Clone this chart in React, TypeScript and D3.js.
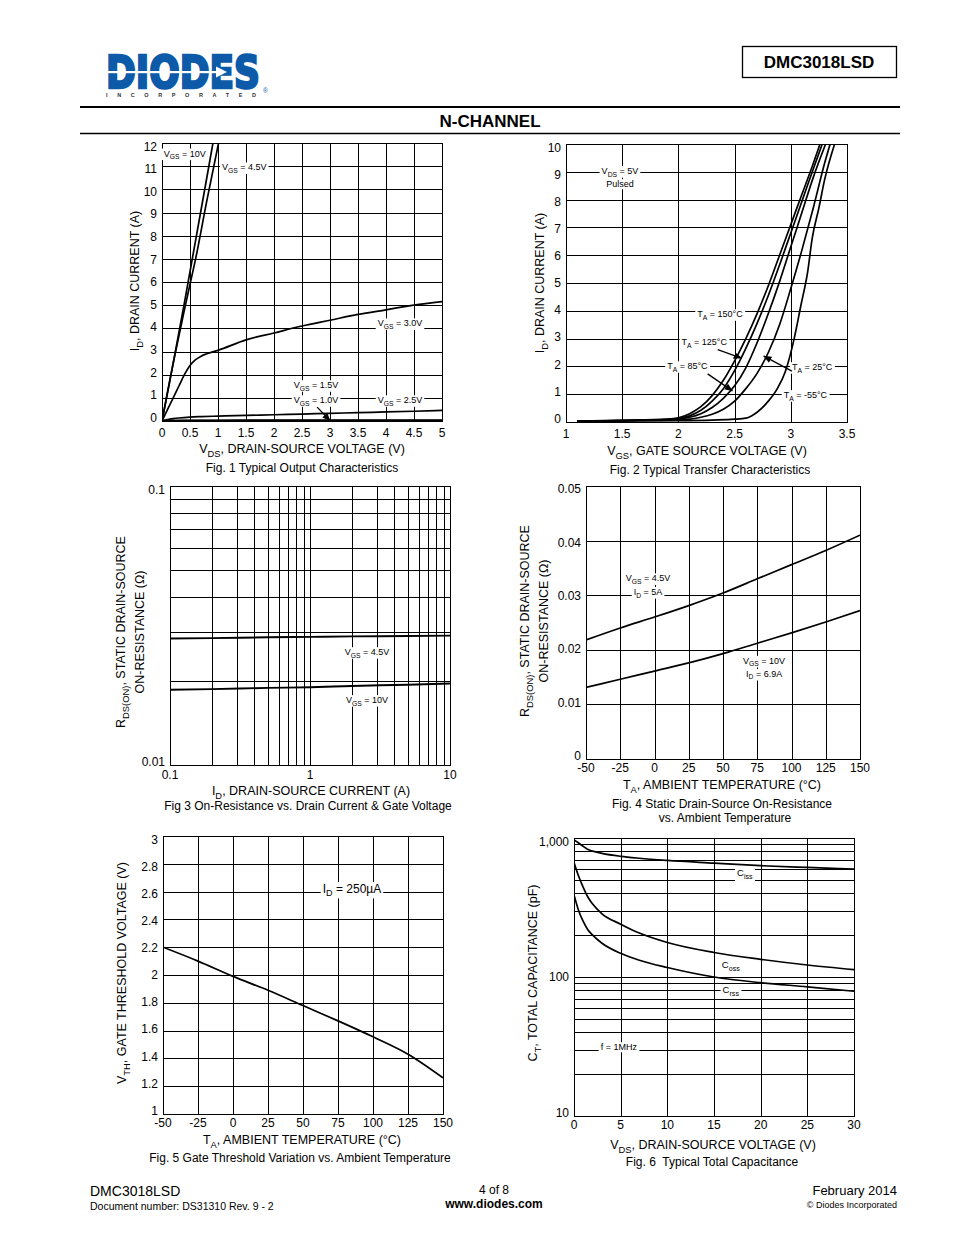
import { useEffect, useRef } from "react";
import * as d3 from "d3";

const W = 954;
const H = 1235;
const FONT = "'Liberation Sans', Arial, Helvetica, sans-serif";

// ── Fig. 1 Typical Output Characteristics ─────────────────────
const f1V10 = [0, 0.2, 0.4, 0.6, 0.8, 0.91];
const f1I10 = [0, 2.5, 5.1, 7.8, 10.5, 12];
const f1V45 = [0, 0.2, 0.4, 0.5, 0.6, 0.8, 1.01];
const f1I45 = [0, 2.5, 4.8, 5.9, 7.0, 9.5, 12];
const f1V30 = [0, 0.1, 0.2, 0.3, 0.4, 0.5, 0.6, 0.7, 0.8, 1.0, 1.5, 2, 2.5, 3, 3.5, 4, 4.5, 5];
const f1I30 = [0, 0.5, 1.0, 1.5, 2.0, 2.4, 2.65, 2.8, 2.9, 3.05, 3.5, 3.8, 4.1, 4.35, 4.6, 4.8, 5.0, 5.15];
const f1V25 = [0, 0.1, 0.2, 0.3, 0.5, 0.7, 1, 1.5, 2, 2.5, 3, 3.5, 4, 4.5, 5];
const f1I25 = [0, 0.06, 0.1, 0.13, 0.17, 0.19, 0.21, 0.24, 0.27, 0.3, 0.33, 0.36, 0.39, 0.42, 0.46];
const f1V15 = [0, 0.5, 1, 2, 3, 4, 5];
const f1I15 = [0, 0.015, 0.02, 0.025, 0.03, 0.03, 0.03];
const f1V10v = [0, 5];
const f1I10v = [0, 0];

// ── Fig. 2 Typical Transfer Characteristics ───────────────────
const f2V150 = [1.1, 1.5, 1.9, 2.0, 2.1, 2.2, 2.3, 2.4, 2.5, 2.6, 2.7, 2.8, 2.9, 3.0, 3.1, 3.2, 3.26];
const f2I150 = [0.03, 0.06, 0.1, 0.15, 0.3, 0.55, 0.95, 1.5, 2.2, 3.0, 3.9, 4.9, 6.0, 7.1, 8.2, 9.3, 10];
const f2V125 = [1.1, 1.5, 1.9, 2.0, 2.1, 2.2, 2.3, 2.4, 2.5, 2.6, 2.7, 2.8, 2.9, 3.0, 3.1, 3.2, 3.28];
const f2I125 = [0.03, 0.05, 0.09, 0.12, 0.22, 0.42, 0.75, 1.2, 1.85, 2.65, 3.55, 4.55, 5.65, 6.8, 7.95, 9.1, 10];
const f2V85 = [1.1, 1.5, 2.0, 2.1, 2.2, 2.3, 2.4, 2.5, 2.6, 2.7, 2.8, 2.9, 3.0, 3.1, 3.2, 3.31];
const f2I85 = [0.03, 0.05, 0.1, 0.17, 0.3, 0.52, 0.85, 1.3, 1.95, 2.85, 3.9, 5.05, 6.3, 7.55, 8.8, 10];
const f2V25 = [1.1, 1.5, 2.0, 2.1, 2.2, 2.3, 2.4, 2.5, 2.6, 2.7, 2.8, 2.9, 3.0, 3.1, 3.2, 3.3, 3.35];
const f2I25 = [0.03, 0.05, 0.08, 0.1, 0.17, 0.28, 0.46, 0.75, 1.2, 1.75, 2.5, 3.5, 4.8, 6.2, 7.7, 9.3, 10];
const f2Vm55 = [1.1, 1.5, 2.0, 2.3, 2.5, 2.6, 2.65, 2.7, 2.8, 2.88, 2.95, 3.03, 3.09, 3.15, 3.19, 3.25, 3.3, 3.39];
const f2Im55 = [0.03, 0.04, 0.05, 0.07, 0.1, 0.14, 0.22, 0.35, 0.75, 1.2, 1.8, 3.0, 4.2, 5.4, 6.6, 7.7, 8.7, 10];

// ── Fig. 3 On-Resistance vs. Drain Current ────────────────────
const f3Id = [0.1, 0.2, 0.5, 1, 2, 5, 10];
const f3R45 = [0.0284, 0.0285, 0.0287, 0.0288, 0.0289, 0.029, 0.0291];
const f3R10 = [0.0186, 0.0187, 0.0189, 0.019, 0.0192, 0.0194, 0.0196];

// ── Fig. 4 On-Resistance vs. Ambient Temperature ──────────────
const f4T = [-50, -25, 0, 25, 50, 75, 100, 125, 150];
const f4R45 = [0.0218, 0.024, 0.026, 0.0281, 0.0304, 0.033, 0.0356, 0.0382, 0.041];
const f4R10 = [0.0131, 0.0146, 0.0161, 0.0176, 0.0193, 0.0212, 0.0231, 0.0251, 0.0272];

// ── Fig. 5 Gate Threshold Variation ───────────────────────────
const f5T = [-50, -25, 0, 25, 50, 75, 100, 125, 150];
const f5Vth = [2.2, 2.1, 1.99, 1.89, 1.78, 1.67, 1.555, 1.43, 1.26];

// ── Fig. 6 Typical Total Capacitance ──────────────────────────
const f6V = [0, 0.5, 1, 1.5, 2, 3, 5, 7, 10, 15, 20, 25, 30];
const f6Ciss = [970, 920, 870, 825, 805, 775, 738, 715, 690, 660, 632, 614, 598];
const f6Coss = [668, 530, 440, 375, 335, 285, 240, 207, 177, 150, 134, 122, 113];
const f6Crss = [390, 300, 250, 218, 200, 175, 148, 132, 117, 100, 91, 85, 79];

// tick values
const f1XTicks = d3.range(0, 5.01, 0.5);
const f1YTicks = d3.range(0, 13, 1);
const f2XTicks = d3.range(1, 3.51, 0.5);
const f2YTicks = d3.range(0, 11, 1);
const f3XTicks = [0.1, 1, 10];
const f3YTicks = [0.01, 0.1];
const tempTicks = d3.range(-50, 151, 25);
const f4YTicks = [0, 0.01, 0.02, 0.03, 0.04, 0.05];
const f5YTicks = d3.range(1, 3.01, 0.2).map((v) => +v.toFixed(1));
const f6XTicks = d3.range(0, 31, 5);
const f6YTicks = [10, 100, 1000];

const logGrid = (lo: number, hi: number) => {
  const out: number[] = [];
  for (let dec = lo; dec < hi; dec *= 10) for (let k = 1; k < 10; k++) out.push(dec * k);
  out.push(hi);
  return out;
};

type Sel = d3.Selection<any, any, any, any>;
type Pt = [number, number];
const zip = (a: number[], b: number[]): Pt[] => a.map((v, i) => [v, b[i]]);

// "V_{GS} = 10V" -> tspans with subscripts
function rich(t: Sel, str: string, size: number) {
  const parts = str.split(/(_\{[^}]*\})/);
  let down = false;
  parts.forEach((p) => {
    if (!p) return;
    if (p.startsWith("_{")) {
      t.append("tspan").attr("font-size", size * 0.75).attr("dy", size * 0.28).text(p.slice(2, -1));
      down = true;
    } else {
      const s = t.append("tspan").text(p);
      if (down) s.attr("dy", -size * 0.28);
      down = false;
    }
  });
}

function note(g: Sel, x: number, y: number, str: string, size: number, anchor = "middle", bg = true) {
  const grp = g.append("g");
  const t = grp
    .append("text")
    .attr("x", x)
    .attr("y", y + size * 0.35)
    .attr("font-size", size)
    .attr("text-anchor", anchor)
    .attr("fill", "#000")
    .style("white-space", "pre");
  rich(t, str, size);
  if (bg) {
    const b = (t.node() as SVGTextElement).getBBox();
    grp
      .insert("rect", "text")
      .attr("x", b.x - 2)
      .attr("y", b.y)
      .attr("width", b.width + 4)
      .attr("height", b.height)
      .attr("fill", "#fff");
  }
}

type Cfg = {
  id: string;
  xd: [number, number];
  yd: [number, number];
  px: [number, number];
  py: [number, number]; // [bottom, top]
  xlog?: boolean;
  ylog?: boolean;
  xGrid: number[];
  yGrid: number[];
  xTicks: number[];
  yTicks: number[];
  xFmt: (v: number) => string;
  yFmt: (v: number) => string;
  xTickDy: number;
};

function chart(svg: Sel, c: Cfg) {
  const g = svg.append("g");
  const xs = (c.xlog ? d3.scaleLog() : d3.scaleLinear()).domain(c.xd).range(c.px);
  const ys = (c.ylog ? d3.scaleLog() : d3.scaleLinear()).domain(c.yd).range(c.py);
  const cx = (v: number) => Math.round(xs(v)) + 0.5;
  const cy = (v: number) => Math.round(ys(v)) + 0.5;
  const midY = (c.py[0] + c.py[1]) / 2;

  g.append("defs")
    .append("clipPath")
    .attr("id", c.id)
    .append("rect")
    .attr("x", c.px[0])
    .attr("y", c.py[1])
    .attr("width", c.px[1] - c.px[0])
    .attr("height", c.py[0] - c.py[1]);

  g.selectAll(".gx")
    .data(c.xGrid)
    .join("line")
    .attr("x1", cx)
    .attr("x2", cx)
    .attr("y1", cy(c.yd[0]))
    .attr("y2", cy(c.yd[1]))
    .attr("stroke", "#000")
    .attr("stroke-width", 1);
  g.selectAll(".gy")
    .data(c.yGrid)
    .join("line")
    .attr("y1", cy)
    .attr("y2", cy)
    .attr("x1", cx(c.xd[0]))
    .attr("x2", cx(c.xd[1]))
    .attr("stroke", "#000")
    .attr("stroke-width", 1);

  g.append("rect")
    .attr("x", cx(c.xd[0]))
    .attr("y", cy(c.yd[1]))
    .attr("width", cx(c.xd[1]) - cx(c.xd[0]))
    .attr("height", cy(c.yd[0]) - cy(c.yd[1]))
    .attr("fill", "none")
    .attr("stroke", "#000")
    .attr("stroke-width", 1);

  g.selectAll(".tx")
    .data(c.xTicks)
    .join("text")
    .attr("x", (d) => xs(d))
    .attr("y", c.py[0] + c.xTickDy)
    .attr("text-anchor", "middle")
    .attr("font-size", 12)
    .text(c.xFmt);
  // tick labels sit slightly inside the grid ends, as in the original
  g.selectAll(".ty")
    .data(c.yTicks)
    .join("text")
    .attr("x", c.px[0] - 5)
    .attr("y", (d) => midY + (ys(d) - midY) * 0.976 + 4.2)
    .attr("text-anchor", "end")
    .attr("font-size", 12)
    .text(c.yFmt);

  const plot = g.append("g").attr("clip-path", `url(#${c.id})`);
  const curve = (pts: Pt[], sw = 1.7) => {
    const line = d3
      .line<Pt>()
      .x((d) => xs(d[0]))
      .y((d) => ys(d[1]))
      .curve(d3.curveMonotoneX);
    plot
      .append("path")
      .attr("d", line(pts))
      .attr("fill", "none")
      .attr("stroke", "#000")
      .attr("stroke-width", sw)
      .attr("stroke-linejoin", "round");
  };
  const ann = g.append("g");
  const label = (x: number, y: number, s: string, size = 9, anchor = "middle", bg = true) =>
    note(ann, xs(x), ys(y), s, size, anchor, bg);
  const arrow = (x1: number, y1: number, x2: number, y2: number) =>
    ann
      .append("line")
      .attr("x1", xs(x1))
      .attr("y1", ys(y1))
      .attr("x2", xs(x2))
      .attr("y2", ys(y2))
      .attr("stroke", "#000")
      .attr("stroke-width", 1.3)
      .attr("marker-end", "url(#arr)");
  return { curve, label, arrow };
}

function ylabel(svg: Sel, x: number, y: number, s: string, size = 12.5) {
  const t = svg
    .append("text")
    .attr("transform", `translate(${x},${y}) rotate(-90)`)
    .attr("text-anchor", "middle")
    .attr("y", size * 0.35)
    .attr("font-size", size)
    .style("white-space", "pre");
  rich(t, s, size);
}

function ctext(svg: Sel, x: number, y: number, s: string, size = 12.5, anchor = "middle", weight = "normal") {
  const t = svg
    .append("text")
    .attr("x", x)
    .attr("y", y)
    .attr("text-anchor", anchor)
    .attr("font-size", size)
    .attr("font-weight", weight)
    .style("white-space", "pre");
  rich(t, s, size);
  return t;
}

const fmt = (v: number) => String(+v.toFixed(2));

export default function App() {
  const ref = useRef<SVGSVGElement>(null);

  useEffect(() => {
    if (!ref.current) return;
    const svg = d3.select(ref.current);
    svg.selectAll("*").remove();
    svg.attr("font-family", FONT);
    svg.append("rect").attr("width", W).attr("height", H).attr("fill", "#fff");

    svg
      .append("defs")
      .append("marker")
      .attr("id", "arr")
      .attr("viewBox", "0 0 10 10")
      .attr("refX", 9)
      .attr("refY", 5)
      .attr("markerWidth", 6.5)
      .attr("markerHeight", 6.5)
      .attr("orient", "auto")
      .append("path")
      .attr("d", "M0,1L10,5L0,9Z")
      .attr("fill", "#000");

    // ── Header ─────────────────────────────────────────────────
    const blue = "#0d5ba8";
    svg
      .append("text")
      .attr("x", 106)
      .attr("y", 88)
      .attr("font-family", "'DejaVu Sans', sans-serif")
      .attr("font-weight", 900)
      .attr("font-size", 44)
      .attr("textLength", 154)
      .attr("lengthAdjust", "spacingAndGlyphs")
      .attr("fill", blue)
      .attr("stroke", blue)
      .attr("stroke-width", 2.6)
      .attr("stroke-linejoin", "miter")
      .text("DIODES");
    svg.append("rect").attr("x", 100).attr("y", 71).attr("width", 122).attr("height", 2.2).attr("fill", "#fff");
    svg.append("path").attr("d", "M216,66.5 L227,72 L216,77.5 Z").attr("fill", "#fff");
    svg
      .append("text")
      .attr("x", 106)
      .attr("y", 97)
      .attr("font-size", 5.5)
      .attr("font-weight", "bold")
      .attr("textLength", 150)
      .attr("lengthAdjust", "spacing")
      .attr("fill", "#333")
      .text("INCORPORATED");
    svg.append("text").attr("x", 263).attr("y", 93).attr("font-size", 6.5).attr("fill", blue).text("®");

    svg
      .append("rect")
      .attr("x", 742.5)
      .attr("y", 46.5)
      .attr("width", 154)
      .attr("height", 31)
      .attr("fill", "none")
      .attr("stroke", "#000")
      .attr("stroke-width", 1.3);
    ctext(svg, 819, 68, "DMC3018LSD", 17, "middle", "bold");

    svg.append("line").attr("x1", 80).attr("x2", 900).attr("y1", 107).attr("y2", 107).attr("stroke", "#000").attr("stroke-width", 2);
    ctext(svg, 490, 127, "N-CHANNEL", 17, "middle", "bold");
    svg.append("line").attr("x1", 80).attr("x2", 900).attr("y1", 133.5).attr("y2", 133.5).attr("stroke", "#000").attr("stroke-width", 1.5);

    // ── Fig 1 ──────────────────────────────────────────────────
    const c1 = chart(svg, {
      id: "c1",
      xd: [0, 5],
      yd: [0, 12],
      px: [162, 442],
      py: [421, 143],
      xGrid: f1XTicks,
      yGrid: f1YTicks,
      xTicks: f1XTicks,
      yTicks: f1YTicks,
      xFmt: fmt,
      yFmt: fmt,
      xTickDy: 16,
    });
    c1.curve(zip(f1V10, f1I10));
    c1.curve(zip(f1V45, f1I45));
    c1.curve(zip(f1V30, f1I30));
    c1.curve(zip(f1V25, f1I25));
    c1.curve(zip(f1V15, f1I15), 2.2);
    c1.curve(zip(f1V10v, f1I10v), 2.4);
    c1.label(0.03, 11.55, "V_{GS} = 10V", 9, "start");
    c1.label(1.07, 10.95, "V_{GS} = 4.5V", 9, "start");
    c1.label(4.25, 4.22, "V_{GS} = 3.0V");
    c1.label(2.75, 1.55, "V_{GS} = 1.5V");
    c1.label(2.75, 0.9, "V_{GS} = 1.0V");
    c1.label(4.25, 0.9, "V_{GS} = 2.5V");
    c1.arrow(2.77, 0.6, 3.0, 0.02);
    ylabel(svg, 135, 281, "I_{D}, DRAIN CURRENT (A)");
    ctext(svg, 302, 453, "V_{DS}, DRAIN-SOURCE VOLTAGE (V)");
    ctext(svg, 302, 472, "Fig. 1 Typical Output Characteristics", 12);

    // ── Fig 2 ──────────────────────────────────────────────────
    const c2 = chart(svg, {
      id: "c2",
      xd: [1, 3.5],
      yd: [0, 10],
      px: [566, 847],
      py: [422, 144],
      xGrid: f2XTicks,
      yGrid: f2YTicks,
      xTicks: f2XTicks,
      yTicks: f2YTicks,
      xFmt: fmt,
      yFmt: fmt,
      xTickDy: 16,
    });
    c2.curve(zip(f2V150, f2I150));
    c2.curve(zip(f2V125, f2I125));
    c2.curve(zip(f2V85, f2I85));
    c2.curve(zip(f2V25, f2I25));
    c2.curve(zip(f2Vm55, f2Im55));
    c2.label(1.48, 9.03, "V_{DS} = 5V");
    c2.label(1.48, 8.56, "Pulsed");
    c2.label(2.37, 3.88, "T_{A} = 150°C");
    c2.label(2.23, 2.88, "T_{A} = 125°C");
    c2.label(2.08, 2.01, "T_{A} = 85°C");
    c2.label(3.19, 1.98, "T_{A} = 25°C");
    c2.label(3.13, 0.97, "T_{A} = -55°C");
    c2.arrow(2.35, 2.6, 2.56, 2.3);
    c2.arrow(2.26, 1.73, 2.48, 1.12);
    c2.arrow(3.01, 1.83, 2.76, 2.37);
    ylabel(svg, 540, 283, "I_{D}, DRAIN CURRENT (A)");
    ctext(svg, 707, 455, "V_{GS}, GATE SOURCE VOLTAGE (V)");
    ctext(svg, 710, 474, "Fig. 2 Typical Transfer Characteristics", 12);

    // ── Fig 3 ──────────────────────────────────────────────────
    const c3 = chart(svg, {
      id: "c3",
      xd: [0.1, 10],
      yd: [0.01, 0.1],
      px: [170, 450],
      py: [765, 486],
      xlog: true,
      ylog: true,
      xGrid: logGrid(0.1, 10),
      yGrid: logGrid(0.01, 0.1),
      xTicks: f3XTicks,
      yTicks: f3YTicks,
      xFmt: fmt,
      yFmt: fmt,
      xTickDy: 14,
    });
    c3.curve(zip(f3Id, f3R45), 1.9);
    c3.curve(zip(f3Id, f3R10), 1.9);
    c3.label(2.55, 0.0254, "V_{GS} = 4.5V");
    c3.label(2.55, 0.0171, "V_{GS} = 10V");
    ylabel(svg, 121, 632, "R_{DS(ON)}, STATIC DRAIN-SOURCE");
    ylabel(svg, 140, 632, "ON-RESISTANCE (Ω)");
    ctext(svg, 311, 795, "I_{D}, DRAIN-SOURCE CURRENT (A)");
    ctext(svg, 308, 810, "Fig 3 On-Resistance vs. Drain Current & Gate Voltage", 12);

    // ── Fig 4 ──────────────────────────────────────────────────
    const c4 = chart(svg, {
      id: "c4",
      xd: [-50, 150],
      yd: [0, 0.05],
      px: [586, 860],
      py: [759, 486],
      xGrid: tempTicks,
      yGrid: f4YTicks,
      xTicks: tempTicks,
      yTicks: f4YTicks,
      xFmt: fmt,
      yFmt: fmt,
      xTickDy: 13,
    });
    c4.curve(zip(f4T, f4R45));
    c4.curve(zip(f4T, f4R10));
    c4.label(-4.7, 0.0331, "V_{GS} = 4.5V");
    c4.label(-4.7, 0.0306, "I_{D} = 5A");
    c4.label(80, 0.018, "V_{GS} = 10V");
    c4.label(80, 0.0156, "I_{D} = 6.9A");
    ylabel(svg, 525, 621, "R_{DS(ON)}, STATIC DRAIN-SOURCE");
    ylabel(svg, 544, 621, "ON-RESISTANCE (Ω)");
    ctext(svg, 722, 789, "T_{A}, AMBIENT TEMPERATURE (°C)");
    ctext(svg, 722, 808, "Fig. 4 Static Drain-Source On-Resistance", 12);
    ctext(svg, 725, 822, "vs. Ambient Temperature", 12);

    // ── Fig 5 ──────────────────────────────────────────────────
    const c5 = chart(svg, {
      id: "c5",
      xd: [-50, 150],
      yd: [1, 3],
      px: [163, 443],
      py: [1114, 836],
      xGrid: tempTicks,
      yGrid: f5YTicks,
      xTicks: tempTicks,
      yTicks: f5YTicks,
      xFmt: fmt,
      yFmt: fmt,
      xTickDy: 13,
    });
    c5.curve(zip(f5T, f5Vth));
    c5.label(85, 2.62, "I_{D} = 250µA", 12);
    ylabel(svg, 122, 973, "V_{TH}, GATE THRESHOLD VOLTAGE (V)");
    ctext(svg, 302, 1144, "T_{A}, AMBIENT TEMPERATURE (°C)");
    ctext(svg, 300, 1162, "Fig. 5 Gate Threshold Variation vs. Ambient Temperature", 12);

    // ── Fig 6 ──────────────────────────────────────────────────
    const c6 = chart(svg, {
      id: "c6",
      xd: [0, 30],
      yd: [10, 1000],
      px: [574, 854],
      py: [1116, 838],
      ylog: true,
      xGrid: f6XTicks,
      yGrid: logGrid(10, 1000),
      xTicks: f6XTicks,
      yTicks: f6YTicks,
      xFmt: fmt,
      yFmt: d3.format(","),
      xTickDy: 12.5,
    });
    c6.curve(zip(f6V, f6Ciss));
    c6.curve(zip(f6V, f6Coss));
    c6.curve(zip(f6V, f6Crss));
    c6.label(18.3, 560, "C_{iss}", 9.5);
    c6.label(16.8, 122, "C_{oss}", 9.5);
    c6.label(16.8, 80.5, "C_{rss}", 9.5);
    c6.label(4.8, 31.3, "f = 1MHz");
    ylabel(svg, 533, 973, "C_{T}, TOTAL CAPACITANCE (pF)");
    ctext(svg, 713, 1149, "V_{DS}, DRAIN-SOURCE VOLTAGE (V)");
    ctext(svg, 712, 1166, "Fig. 6  Typical Total Capacitance", 12);

    // ── Footer ─────────────────────────────────────────────────
    ctext(svg, 90, 1196, "DMC3018LSD", 14, "start");
    ctext(svg, 90, 1210, "Document number: DS31310 Rev. 9 - 2", 10.5, "start");
    ctext(svg, 494, 1194, "4 of 8", 12);
    ctext(svg, 494, 1208, "www.diodes.com", 12, "middle", "bold");
    ctext(svg, 897, 1195, "February 2014", 13, "end");
    ctext(svg, 897, 1208, "© Diodes Incorporated", 9, "end");
  }, []);

  return <svg ref={ref} width={W} height={H} style={{ position: "absolute", left: 0, top: 0 }} />;
}
